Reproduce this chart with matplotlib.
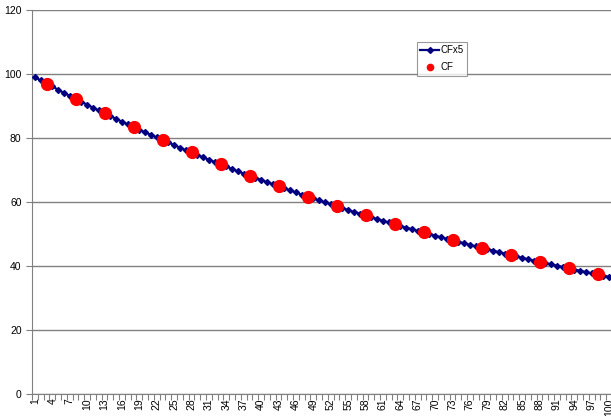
import numpy as np
import matplotlib.pyplot as plt

plt.rcParams['font.family'] = ['Liberation Sans', 'DejaVu Sans']

# CFx5 series: one value per category 1..100
cfx5 = [99.0, 98.0, 97.0, 96.1, 95.1, 94.1, 93.2, 92.3, 91.4, 90.4,
        89.5, 88.6, 87.8, 86.9, 86.0, 85.1, 84.3, 83.5, 82.6, 81.8,
        81.0, 80.2, 79.4, 78.6, 77.8, 77.0, 76.2, 75.5, 74.7, 74.0,
        73.2, 72.5, 71.8, 71.1, 70.3, 69.6, 68.9, 68.2, 67.6, 66.9,
        66.2, 65.6, 64.9, 64.3, 63.6, 63.0, 62.3, 61.7, 61.1, 60.5,
        59.9, 59.3, 58.7, 58.1, 57.5, 56.9, 56.4, 55.8, 55.2, 54.7,
        54.1, 53.6, 53.1, 52.5, 52.0, 51.5, 51.0, 50.5, 50.0, 49.5,
        49.0, 48.5, 48.0, 47.5, 47.1, 46.6, 46.1, 45.7, 45.2, 44.8,
        44.3, 43.9, 43.4, 43.0, 42.6, 42.1, 41.7, 41.3, 40.9, 40.5,
        40.1, 39.7, 39.3, 38.9, 38.5, 38.1, 37.7, 37.4, 37.0, 36.6]
categories = list(range(1, 101))

# CF series: every 5th category starting at 3
cf_cats = [3, 8, 13, 18, 23, 28, 33, 38, 43, 48,
           53, 58, 63, 68, 73, 78, 83, 88, 93, 98]
cf = [97.0, 92.3, 87.8, 83.5, 79.4, 75.5, 71.8, 68.2, 64.9, 61.7,
      58.7, 55.8, 53.1, 50.5, 48.0, 45.7, 43.4, 41.3, 39.3, 37.4]

label_cats = list(range(1, 101, 3))

fig = plt.figure(figsize=(6.11, 4.16), dpi=100)
ax = fig.add_axes([32 / 611, 22 / 416, 580 / 611, 384 / 416])

ax.plot(categories, cfx5, color='#000080', lw=1.6, marker='D', ms=3,
        label='CFx5', zorder=3)
ax.plot(cf_cats, cf, ls='none', marker='o', color='#ff0000', ms=8.5,
        label='CF', zorder=4)

ax.set_xlim(0.5, 100.5)
ax.set_ylim(0, 120)
ax.set_yticks(range(0, 121, 20))
ax.yaxis.grid(True, color='#808080', lw=1)
ax.set_axisbelow(True)

# category axis: ticks at boundaries, labels at centres
ax.set_xticks(np.arange(0.5, 101, 1))
ax.set_xticklabels([])
ax.set_xticks(label_cats, minor=True)
ax.set_xticklabels([str(c) for c in label_cats], minor=True, rotation=90,
                   fontsize=7.5)
ax.tick_params(axis='x', which='major', length=4, color='#808080', direction='out')
ax.tick_params(axis='x', which='minor', length=0, pad=3)
ax.tick_params(axis='y', length=4, color='#808080', labelsize=7.5)

for s in ['top', 'right']:
    ax.spines[s].set_visible(False)
ax.spines['left'].set_color('#808080')
ax.spines['bottom'].set_color('#808080')

leg = ax.legend(loc='upper left', bbox_to_anchor=(385 / 580, 1 - 32 / 384),
                fontsize=7, frameon=True, fancybox=False, edgecolor='#808080',
                handlelength=1.9, handletextpad=0.2, borderpad=0.35,
                labelspacing=0.7, borderaxespad=0)
leg.get_frame().set_linewidth(0.8)
leg.legend_handles[1].set_markersize(4.5)

plt.savefig('out.png', dpi=100)
